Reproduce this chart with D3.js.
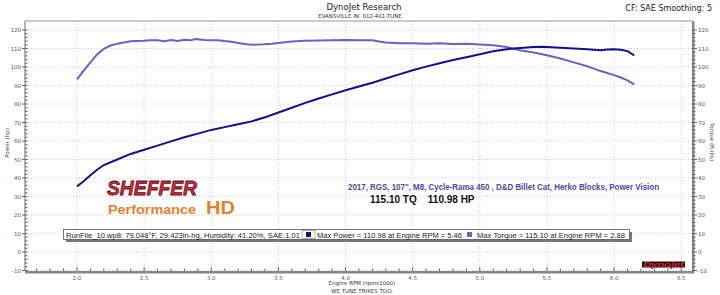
<!DOCTYPE html>
<html>
<head>
<meta charset="utf-8">
<script src="https://cdn.jsdelivr.net/npm/d3@7"></script>
<style>
  body { margin: 0; background: #fff; }
  svg { display: block; font-family: "DejaVu Sans", Tahoma, sans-serif; }
</style>
</head>
<body>
<svg id="dyno" width="720" height="295"></svg>
<script>
// dyno run, rpm in thousands
let torqueRpm = [2.00, 2.05, 2.10, 2.15, 2.20, 2.25, 2.30, 2.35, 2.40, 2.45, 2.50, 2.55, 2.60, 2.65, 2.70,
  2.75, 2.80, 2.85, 2.88, 2.95, 3.00, 3.05, 3.10, 3.15, 3.20, 3.25, 3.30, 3.35, 3.40, 3.45, 3.50, 3.60,
  3.70, 3.80, 3.90, 4.00, 4.10, 4.20, 4.25, 4.30, 4.40, 4.50, 4.60, 4.70, 4.80, 4.90, 5.00, 5.10, 5.20,
  5.30, 5.40, 5.50, 5.60, 5.70, 5.80, 5.90, 6.00, 6.05, 6.10, 6.15];
let torqueFt = [93.3, 98.0, 102.5, 106.8, 109.8, 111.6, 112.6, 113.3, 113.9, 114.1, 114.2, 114.5, 114.4, 113.9, 114.6,
  114.1, 114.7, 114.4, 115.1, 114.6, 114.4, 114.5, 114.0, 113.6, 113.0, 112.4, 112.0, 112.1, 112.3, 112.6, 113.0, 113.8,
  114.2, 114.3, 114.5, 114.6, 114.5, 114.4, 113.8, 113.2, 112.9, 112.8, 112.6, 112.8, 112.5, 112.6, 112.2, 111.8, 110.8,
  109.0, 107.8, 106.4, 104.6, 102.5, 100.4, 97.8, 95.6, 94.3, 92.8, 90.6];

let powerRpm = [2.00, 2.05, 2.10, 2.15, 2.20, 2.30, 2.40, 2.50, 2.60, 2.70, 2.80, 2.90, 3.00, 3.10, 3.20,
  3.30, 3.40, 3.50, 3.60, 3.70, 3.80, 3.90, 4.00, 4.10, 4.20, 4.30, 4.40, 4.50, 4.60, 4.70, 4.80, 4.90,
  5.00, 5.10, 5.20, 5.30, 5.40, 5.46, 5.50, 5.60, 5.70, 5.80, 5.90, 5.95, 6.00, 6.05, 6.10, 6.15];
let powerHp = [35.5, 38.2, 41.5, 44.5, 47.0, 50.0, 53.0, 55.3, 57.5, 59.8, 62.0, 64.0, 66.0, 67.5, 69.0,
  70.6, 72.8, 75.4, 78.0, 80.6, 83.0, 85.2, 87.4, 89.5, 91.5, 93.8, 96.0, 98.2, 100.2, 102.0, 103.8, 105.3,
  106.9, 108.5, 109.6, 110.3, 110.8, 110.98, 110.8, 110.4, 110.0, 109.6, 109.0, 109.4, 109.6, 109.3, 108.6, 106.2];

let xTicks = [2.0, 2.5, 3.0, 3.5, 4.0, 4.5, 5.0, 5.5, 6.0, 6.5];
let yTicks = [-10, 0, 10, 20, 30, 40, 50, 60, 70, 80, 90, 100, 110, 120];

function make_chart() {
  let svg = d3.select("svg#dyno");
  let left = 25, right = 692, top = 21, bottom = 271;
  let narrow = "Liberation Sans, Arial, sans-serif";

  let x = d3.scaleLinear().domain([1.613, 6.58]).range([left, right]);
  let y = d3.scaleLinear().domain([-10, 120]).range([270.5, 30]);

  // header
  svg.append("text").attr("x", 364).attr("y", 10).attr("text-anchor", "middle")
    .attr("font-size", 8.5).attr("fill", "#222").text("DynoJet Research");
  svg.append("text").attr("x", 360).attr("y", 18).attr("text-anchor", "middle")
    .attr("font-size", 5.5).attr("fill", "#333").text("EVANSVILLE IN. 812-401-TUNE");
  svg.append("text").attr("x", 712).attr("y", 11).attr("text-anchor", "end")
    .attr("font-size", 8).attr("fill", "#222").text("CF: SAE Smoothing: 5");

  // grid
  xTicks.forEach(function(t) {
    svg.append("line").attr("stroke", "#c8c8c8").attr("stroke-dasharray", "1,2")
      .attr("x1", x(t)).attr("x2", x(t)).attr("y1", top).attr("y2", bottom);
  });
  yTicks.forEach(function(t) {
    svg.append("line").attr("stroke", "#c8c8c8").attr("stroke-dasharray", "1,2")
      .attr("x1", left).attr("x2", right).attr("y1", y(t)).attr("y2", y(t));
  });

  // frame
  svg.append("line").attr("stroke", "#999").attr("x1", left).attr("x2", right).attr("y1", top).attr("y2", top);
  svg.append("line").attr("stroke", "#666").attr("x1", left).attr("x2", left).attr("y1", top).attr("y2", bottom);
  svg.append("rect").attr("fill", "#888").attr("x", right).attr("y", top).attr("width", 2.5).attr("height", bottom - top + 2);
  svg.append("rect").attr("fill", "#888").attr("x", left).attr("y", bottom).attr("width", right - left + 2).attr("height", 2.5);

  // left + right axis ticks
  let minor = d3.range(-10, 121, 2);
  minor.forEach(function(v) {
    let major = v % 10 == 0;
    svg.append("line").attr("stroke", "#666")
      .attr("x1", major ? left - 3 : left).attr("x2", left + 2.5).attr("y1", y(v)).attr("y2", y(v));
    svg.append("line").attr("stroke", "#666")
      .attr("x1", right).attr("x2", right + (major ? 5 : 3.5)).attr("y1", y(v)).attr("y2", y(v));
  });
  yTicks.forEach(function(t) {
    svg.append("text").attr("x", left - 4).attr("y", y(t) + 2).attr("text-anchor", "end")
      .attr("font-size", 5.5).attr("fill", "#555").text(t);
    svg.append("text").attr("x", right + 6).attr("y", y(t) + 2)
      .attr("font-size", 5.5).attr("fill", "#555").text(t);
  });

  // bottom axis ticks
  d3.range(17, 66).forEach(function(i) {
    let v = i / 10;
    let major = i % 5 == 0;
    svg.append("line").attr("stroke", "#666")
      .attr("x1", x(v)).attr("x2", x(v)).attr("y1", bottom - (major ? 4 : 2.5)).attr("y2", bottom);
  });
  xTicks.forEach(function(t) {
    svg.append("text").attr("x", x(t)).attr("y", 280).attr("text-anchor", "middle")
      .attr("font-size", 5.5).attr("fill", "#555").text(t.toFixed(1));
  });

  svg.append("text").attr("x", 362).attr("y", 285).attr("text-anchor", "middle")
    .attr("font-size", 5.5).attr("fill", "#333").text("Engine RPM (rpmx1000)");
  svg.append("text").attr("x", 362).attr("y", 293).attr("text-anchor", "middle")
    .attr("font-size", 5.5).attr("fill", "#333").text("WE TUNE TRIKES TOO.");
  svg.append("text").attr("transform", "translate(9,143) rotate(-90)").attr("text-anchor", "middle")
    .attr("font-size", 5.5).attr("fill", "#444").text("Power (hp)");
  svg.append("text").attr("transform", "translate(710,142) rotate(90)").attr("text-anchor", "middle")
    .attr("font-size", 5.5).attr("fill", "#444").text("Torque (ft-lbs)");

  // curves
  let line = d3.line().x(d => x(d[0])).y(d => y(d[1]));
  svg.append("path").datum(d3.zip(torqueRpm, torqueFt))
    .attr("fill", "none").attr("stroke", "#6464c4").attr("stroke-width", 2).attr("d", line);
  svg.append("path").datum(d3.zip(powerRpm, powerHp))
    .attr("fill", "none").attr("stroke", "#10108a").attr("stroke-width", 2).attr("d", line);

  // shop logo
  svg.append("text").attr("x", 107).attr("y", 195).attr("font-family", narrow)
    .attr("font-size", 21).attr("font-weight", "bold").attr("font-style", "italic")
    .attr("fill", "#d42a3a").attr("stroke", "#5a1018").attr("stroke-width", 0.8)
    .attr("textLength", 90).attr("lengthAdjust", "spacingAndGlyphs").text("SHEFFER");
  svg.append("text").attr("x", 108).attr("y", 214).attr("font-family", narrow)
    .attr("font-size", 13).attr("font-weight", "bold").attr("fill", "#e2802c")
    .attr("textLength", 88).attr("lengthAdjust", "spacingAndGlyphs").text("Performance");
  svg.append("text").attr("x", 206).attr("y", 214).attr("font-family", narrow)
    .attr("font-size", 19).attr("font-weight", "bold").attr("fill", "#e2802c")
    .attr("textLength", 29).attr("lengthAdjust", "spacingAndGlyphs").text("HD");

  // build notes
  svg.append("text").attr("x", 348).attr("y", 190).attr("font-family", narrow)
    .attr("font-size", 8.5).attr("font-weight", "bold").attr("fill", "#4a4aa0")
    .attr("textLength", 311).attr("lengthAdjust", "spacingAndGlyphs")
    .text("2017, RGS, 107\", M8, Cycle-Rama 450 , D&D Billet Cat, Herko Blocks, Power Vision");
  svg.append("text").attr("x", 370).attr("y", 203).attr("font-family", narrow)
    .attr("font-size", 10).attr("font-weight", "bold").attr("fill", "#111")
    .attr("xml:space", "preserve").text("115.10 TQ    110.98 HP");

  // legend box
  svg.append("rect").attr("x", 66).attr("y", 232).attr("width", 566).attr("height", 10).attr("fill", "#777");
  svg.append("rect").attr("x", 63.5).attr("y", 229.5).attr("width", 566).attr("height", 10)
    .attr("fill", "#fff").attr("stroke", "#555").attr("stroke-width", 0.8);
  svg.append("text").attr("x", 66).attr("y", 237.5).attr("font-family", narrow)
    .attr("font-size", 7.5).attr("fill", "#222")
    .attr("textLength", 234).attr("lengthAdjust", "spacingAndGlyphs")
    .text("RunFile_10.wp8: 79.048°F, 29.423in-hg, Humidity: 41.20%, SAE:1.01");
  svg.append("rect").attr("x", 302).attr("y", 230.5).attr("width", 13).attr("height", 8)
    .attr("fill", "#fff").attr("stroke", "#777").attr("stroke-width", 0.6);
  svg.append("rect").attr("x", 306).attr("y", 232).attr("width", 5).attr("height", 5).attr("fill", "#10108a");
  svg.append("text").attr("x", 317).attr("y", 237.5).attr("font-family", narrow)
    .attr("font-size", 7.5).attr("fill", "#222")
    .attr("textLength", 145).attr("lengthAdjust", "spacingAndGlyphs")
    .text("Max Power = 110.98 at Engine RPM = 5.46");
  svg.append("rect").attr("x", 467).attr("y", 232).attr("width", 5).attr("height", 5).attr("fill", "#6464c4");
  svg.append("text").attr("x", 477).attr("y", 237.5).attr("font-family", narrow)
    .attr("font-size", 7.5).attr("fill", "#222")
    .attr("textLength", 148).attr("lengthAdjust", "spacingAndGlyphs")
    .text("Max Torque = 115.10 at Engine RPM = 2.88");

  // dynojet badge
  svg.append("rect").attr("x", 642).attr("y", 261.5).attr("width", 43).attr("height", 6).attr("fill", "#2a0a0a");
  svg.append("text").attr("x", 643).attr("y", 267).attr("font-family", narrow)
    .attr("font-size", 7).attr("font-weight", "bold").attr("font-style", "italic").attr("fill", "#d0202c")
    .attr("textLength", 41).attr("lengthAdjust", "spacingAndGlyphs").text("Dynojet");
}

make_chart();
</script>
</body>
</html>
